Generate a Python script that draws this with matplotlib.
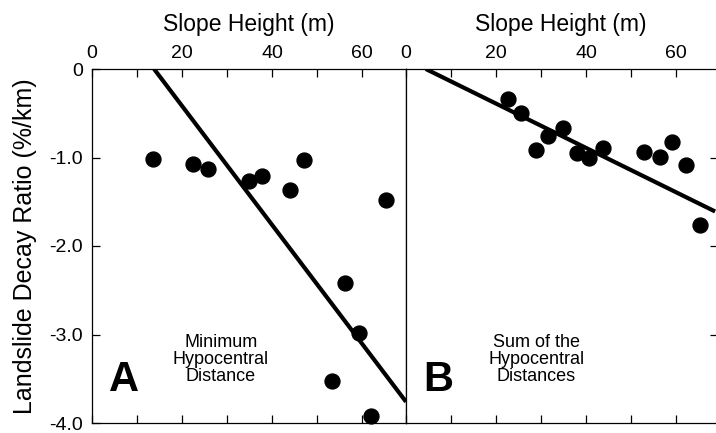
import matplotlib
matplotlib.use("Agg")
import matplotlib.pyplot as plt

# panel A: minimum hypocentral distance
a_height = [13.5, 22.5, 25.8, 35.0, 37.9, 44.0, 47.1, 65.3, 56.2, 59.3, 53.3, 62.0]
a_ratio = [-1.02, -1.07, -1.13, -1.26, -1.21, -1.37, -1.03, -1.48, -2.42, -2.98, -3.53, -3.92]
a_fit_x = [13.8, 69.8]
a_fit_y = [0.0, -3.76]

# panel B: sum of the hypocentral distances
b_height = [22.7, 25.5, 28.8, 31.6, 35.0, 37.9, 40.7, 43.8, 53.0, 56.4, 59.2, 62.3, 65.3]
b_ratio = [-0.34, -0.50, -0.92, -0.76, -0.67, -0.95, -1.01, -0.89, -0.94, -0.99, -0.82, -1.08, -1.76]
b_fit_x = [4.4, 68.7]
b_fit_y = [0.0, -1.61]

x_ticks = [0, 10, 20, 30, 40, 50, 60]
x_tick_labels = ["0", "", "20", "", "40", "", "60"]
y_ticks = [0, -1, -2, -3, -4]
y_tick_labels = ["0", "-1.0", "-2.0", "-3.0", "-4.0"]

plt.rcParams["font.family"] = ["Liberation Sans", "DejaVu Sans"]

W, H = 716, 433
fig = plt.figure(figsize=(W / 100, H / 100), dpi=100)

ax_a = fig.add_axes([92 / W, 10 / H, 314 / W, 354 / H])
ax_b = fig.add_axes([406 / W, 10 / H, 310 / W, 354 / H])


def style_panel(ax, xmax):
    ax.set_xlim(0, xmax)
    ax.set_ylim(-4, 0)
    ax.xaxis.set_ticks_position("both")
    ax.xaxis.set_label_position("top")
    ax.tick_params(axis="x", which="both", direction="in", length=6, width=0.9,
                   top=True, bottom=True, labeltop=True, labelbottom=False,
                   labelsize=14, pad=5)
    ax.set_xticks(x_ticks)
    ax.set_xticklabels(x_tick_labels)
    ax.set_xlabel("Slope Height (m)", fontsize=16.5, labelpad=10)
    for s in ax.spines.values():
        s.set_linewidth(0.9)


style_panel(ax_a, 69.8)
style_panel(ax_b, 68.9)

ax_a.set_yticks(y_ticks)
ax_a.set_yticklabels(y_tick_labels)
ax_a.tick_params(axis="y", direction="in", length=6, width=0.9, labelsize=14,
                 pad=6.5, right=False)
ax_a.set_ylabel("Landslide Decay Ratio (%/km)", fontsize=18, labelpad=9)

ax_b.spines["right"].set_visible(False)
ax_b.set_yticks([-1, -2, -3])
ax_b.tick_params(axis="y", direction="in", length=4, width=0.9, left=False,
                 right=True, labelleft=False, labelright=False)

ax_a.scatter(a_height, a_ratio, s=115, color="black", zorder=3, clip_on=False)
ax_a.plot(a_fit_x, a_fit_y, color="black", lw=3.0, solid_capstyle="butt")
ax_b.scatter(b_height, b_ratio, s=115, color="black", zorder=3, clip_on=False)
ax_b.plot(b_fit_x, b_fit_y, color="black", lw=3.0, solid_capstyle="butt")

ax_a.text(0.055, 0.065, "A", transform=ax_a.transAxes, fontsize=30,
          fontweight="bold", ha="left", va="bottom")
ax_a.text(0.41, 0.18, "Minimum\nHypocentral\nDistance", transform=ax_a.transAxes,
          fontsize=13, ha="center", va="center", linespacing=1.0)
ax_b.text(0.055, 0.065, "B", transform=ax_b.transAxes, fontsize=30,
          fontweight="bold", ha="left", va="bottom")
ax_b.text(0.42, 0.18, "Sum of the\nHypocentral\nDistances", transform=ax_b.transAxes,
          fontsize=13, ha="center", va="center", linespacing=1.0)

fig.savefig("out.png", dpi=100)
